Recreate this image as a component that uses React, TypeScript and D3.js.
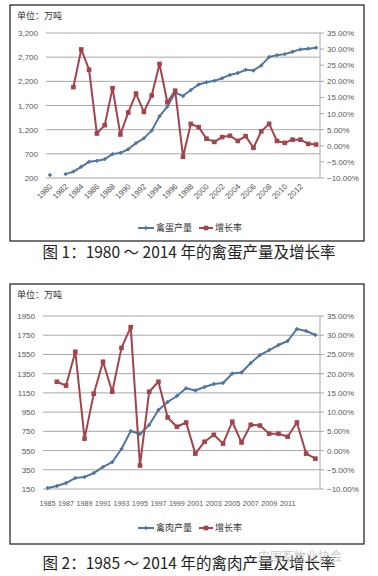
import React from "react";
import * as d3 from "d3";

// ---------- Chart 1: egg output ----------
const eggYears = ["1980","1981","1982","1983","1984","1985","1986","1987","1988","1989","1990","1991","1992","1993","1994","1995","1996","1997","1998","1999","2000","2001","2002","2003","2004","2005","2006","2007","2008","2009","2010","2011","2012","2013","2014"];
const eggOutput = [262, null, 281, 332, 432, 535, 555, 590, 695, 720, 795, 922, 1020, 1180, 1479, 1677, 1965, 1897, 2021, 2135, 2182, 2210, 2265, 2333, 2371, 2438, 2424, 2529, 2702, 2742, 2763, 2811, 2861, 2876, 2894];
const eggGrowth = [null, null, null, 18.2, 29.9, 23.6, 3.8, 6.4, 17.9, 3.5, 10.3, 16.2, 10.5, 15.6, 25.4, 13.5, 17.1, -3.4, 6.8, 5.8, 2.2, 1.2, 2.7, 3.1, 1.5, 3.0, -0.6, 4.5, 6.8, 1.5, 0.9, 1.9, 1.9, 0.6, 0.4];
const eggXTicks = ["1980","1982","1984","1986","1988","1990","1992","1994","1996","1998","2000","2002","2004","2006","2008","2010","2012"];
const eggLeftTicks = [200, 700, 1200, 1700, 2200, 2700, 3200];

// ---------- Chart 2: poultry meat output ----------
const meatYears = ["1985","1986","1987","1988","1989","1990","1991","1992","1993","1994","1995","1996","1997","1998","1999","2000","2001","2002","2003","2004","2005","2006","2007","2008","2009","2010","2011","2012","2013","2014"];
const meatOutput = [160, 181, 212, 265, 275, 316, 380, 430, 566, 753, 722, 816, 972, 1055, 1118, 1198, 1175, 1211, 1243, 1253, 1352, 1362, 1461, 1544, 1596, 1648, 1690, 1815, 1794, 1752];
const meatGrowth = [null, 17.9, 16.9, 25.7, 3.1, 14.8, 23.1, 15.3, 26.7, 32.1, -3.9, 15.3, 17.9, 8.6, 6.2, 7.3, -0.8, 2.3, 4.1, 1.8, 7.5, 2.1, 6.7, 6.5, 4.4, 4.4, 3.6, 7.3, -0.8, -2.1];
const meatXTicks = ["1985","1987","1989","1991","1993","1995","1997","1999","2001","2003","2005","2007","2009","2011"];
const meatLeftTicks = [150, 350, 550, 750, 950, 1150, 1350, 1550, 1750, 1950];

const pctTicks = [-10, -5, 0, 5, 10, 15, 20, 25, 30, 35];

const BLUE = "#50779f";
const RED = "#a3434b";
const GRID = "#a8a8a8";
const TXT = "#585858";
const NUM_FONT = "'Liberation Sans', Arial, sans-serif";
const CJK_FONT = "'Noto Sans CJK SC', sans-serif";

type PanelProps = {
  years: string[];
  output: (number | null)[];
  growth: (number | null)[];
  xTicks: string[];
  leftTicks: number[];
  leftFmt: (v: number) => string;
  box: { x0: number; y0: number; x1: number; y1: number };
  plot: { x0: number; x1: number; top: number; bottom: number };
  rotateLabels: boolean;
  legendY: number;
  seriesName: string;
  caption: string;
  captionY: number;
};

function Panel(p: PanelProps) {
  const x = d3.scaleBand().domain(p.years).range([p.plot.x0, p.plot.x1]);
  const cx = (yr: string) => (x(yr) as number) + x.bandwidth() / 2;
  const yL = d3.scaleLinear().domain(d3.extent(p.leftTicks) as [number, number]).range([p.plot.bottom, p.plot.top]);
  const yR = d3.scaleLinear().domain([-10, 35]).range([p.plot.bottom, p.plot.top]);
  const pctFmt = (v: number) => d3.format(".2f")(v) + "%";

  const outPts = p.years.map((yr, i) => ({ yr, v: p.output[i] }));
  const grPts = p.years.map((yr, i) => ({ yr, v: p.growth[i] }));
  const lineL = d3.line<{ yr: string; v: number | null }>()
    .defined((d) => d.v != null)
    .x((d) => cx(d.yr))
    .y((d) => yL(d.v as number));
  const lineR = d3.line<{ yr: string; v: number | null }>()
    .defined((d) => d.v != null)
    .x((d) => cx(d.yr))
    .y((d) => yR(d.v as number));

  const axisX = p.plot.x1;
  return (
    <g>
      <rect x={p.box.x0} y={p.box.y0} width={p.box.x1 - p.box.x0} height={p.box.y1 - p.box.y0} fill="#fff" stroke="#1a1a1a" strokeWidth={1.2} />
      <text x={p.box.x0 + 7} y={p.box.y0 + 14} fontFamily={CJK_FONT} fontSize={9} fill="#333">单位：万吨</text>
      {p.leftTicks.map((t) => (
        <g key={"g" + t}>
          <line x1={p.plot.x0} x2={axisX} y1={yL(t)} y2={yL(t)} stroke={GRID} strokeWidth={1} />
          <text x={p.plot.x0 - 8} y={yL(t) + 3} textAnchor="end" fontFamily={NUM_FONT} fontSize={8} fill={TXT}>{p.leftFmt(t)}</text>
        </g>
      ))}
      <line x1={axisX} x2={axisX} y1={p.plot.top} y2={p.plot.bottom} stroke={GRID} strokeWidth={1} />
      {pctTicks.map((t) => (
        <g key={"r" + t}>
          <line x1={axisX} x2={axisX + 4} y1={yR(t)} y2={yR(t)} stroke={GRID} strokeWidth={1} />
          <text x={axisX + 7} y={yR(t) + 3} fontFamily={NUM_FONT} fontSize={8} fill={TXT}>{pctFmt(t)}</text>
        </g>
      ))}
      {p.xTicks.map((t) =>
        p.rotateLabels ? (
          <text key={"x" + t} transform={`translate(${cx(t) + 3},${p.plot.bottom + 9}) rotate(-45)`} textAnchor="end" fontFamily={NUM_FONT} fontSize={8} fill={TXT}>{t}</text>
        ) : (
          <text key={"x" + t} x={cx(t)} y={p.plot.bottom + 17} textAnchor="middle" fontFamily={NUM_FONT} fontSize={7.2} fill={TXT}>{t}</text>
        )
      )}
      <path d={lineL(outPts) || ""} fill="none" stroke={BLUE} strokeWidth={2} strokeLinejoin="round" />
      {outPts.filter((d) => d.v != null).map((d) => {
        const px = cx(d.yr), py = yL(d.v as number);
        return <path key={"b" + d.yr} d={`M${px},${py - 2.2}L${px + 2.2},${py}L${px},${py + 2.2}L${px - 2.2},${py}Z`} fill={BLUE} />;
      })}
      <path d={lineR(grPts) || ""} fill="none" stroke={RED} strokeWidth={2} strokeLinejoin="round" />
      {grPts.filter((d) => d.v != null).map((d) => (
        <rect key={"s" + d.yr} x={cx(d.yr) - 2.3} y={yR(d.v as number) - 2.3} width={4.6} height={4.6} fill={RED} />
      ))}
      {/* legend */}
      <line x1={138} x2={154} y1={p.legendY} y2={p.legendY} stroke={BLUE} strokeWidth={2} />
      <path d={`M146,${p.legendY - 2.2}L148.2,${p.legendY}L146,${p.legendY + 2.2}L143.8,${p.legendY}Z`} fill={BLUE} />
      <text x={156} y={p.legendY + 3.2} fontFamily={CJK_FONT} fontSize={9} fill="#333">{p.seriesName}</text>
      <line x1={199} x2={213} y1={p.legendY} y2={p.legendY} stroke={RED} strokeWidth={2} />
      <rect x={203.7} y={p.legendY - 2.3} width={4.6} height={4.6} fill={RED} />
      <text x={215} y={p.legendY + 3.2} fontFamily={CJK_FONT} fontSize={9} fill="#333">增长率</text>
      <text x={189} y={p.captionY} textAnchor="middle" fontFamily={CJK_FONT} fontSize={15.5} fill="#222">{p.caption}</text>
    </g>
  );
}

export default function App() {
  return (
    <svg width={378} height={576} style={{ position: "absolute", left: 0, top: 0, background: "#fff" }}>
      <rect x={0} y={0} width={378} height={576} fill="#fff" />
      <Panel
        years={eggYears}
        output={eggOutput}
        growth={eggGrowth}
        xTicks={eggXTicks}
        leftTicks={eggLeftTicks}
        leftFmt={d3.format(",")}
        box={{ x0: 10, y0: 5, x1: 364, y1: 241 }}
        plot={{ x0: 46, x1: 320, top: 33, bottom: 178 }}
        rotateLabels={true}
        legendY={228}
        seriesName="禽蛋产量"
        caption="图 1：1980 ～ 2014 年的禽蛋产量及增长率"
        captionY={258}
      />
      <Panel
        years={meatYears}
        output={meatOutput}
        growth={meatGrowth}
        xTicks={meatXTicks}
        leftTicks={meatLeftTicks}
        leftFmt={(v: number) => String(v)}
        box={{ x0: 10, y0: 284, x1: 364, y1: 544 }}
        plot={{ x0: 43, x1: 320, top: 316, bottom: 489 }}
        rotateLabels={false}
        legendY={528}
        seriesName="禽肉产量"
        caption="图 2：1985 ～ 2014 年的禽肉产量及增长率"
        captionY={569}
      />
      <text x={258} y={561} fontFamily={CJK_FONT} fontSize={12} fill="#b8b8b8" opacity={0.75}>中国畜牧业协会</text>
    </svg>
  );
}
